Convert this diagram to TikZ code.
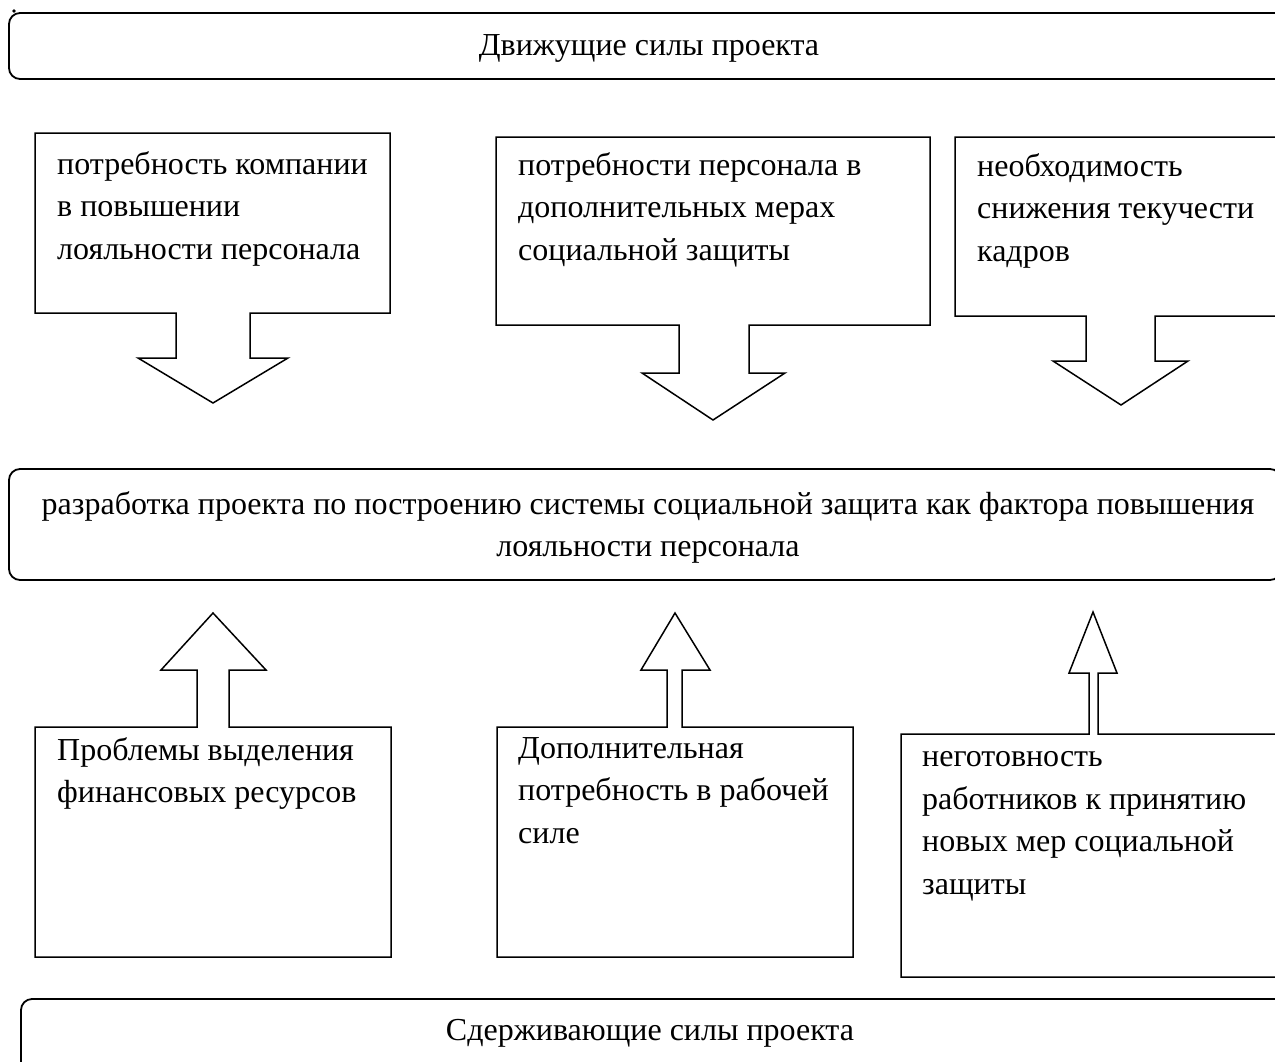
\documentclass[tikz,border=0pt]{standalone}
\usepackage{fontspec}
\setmainfont{Liberation Serif}
\newcommand\fsz{\fontsize{32}{42.5}\selectfont}
\begin{document}
\begin{tikzpicture}[x=1pt,y=-1pt,
  rbox/.style={draw,line width=1.8pt,rounded corners=11pt},
  cbox/.style={draw,line width=1.5pt,line join=miter},
  txt/.style={font=\fsz,anchor=base west,align=left,inner sep=0pt},
  ctxt/.style={font=\fsz,anchor=base,align=center,inner sep=0pt}]
\useasboundingbox (0,0) rectangle (1275,1061);
\clip (0,0) rectangle (1275,1061);
\fill[white] (0,0) rectangle (1275,1061);
% top box
\draw[rbox] (9,13) rectangle (1300,79);
\fill (14,11) circle (1.8pt);
\node[ctxt] (top) at (649,55) {Движущие силы проекта};
% driving forces
\draw[cbox] (35,133) -- (390,133) -- (390,313) -- (250,313) -- (250,358) -- (288,358) -- (213,403) -- (138,358) -- (176,358) -- (176,313) -- (35,313) -- cycle;
\node[txt] (d1) at (57,259) {потребность компании\\в повышении\\лояльности персонала};
\draw[cbox] (496,137) -- (930,137) -- (930,325) -- (749,325) -- (749,373) -- (785,373) -- (713,420) -- (642,373) -- (679,373) -- (679,325) -- (496,325) -- cycle;
\node[txt] (d2) at (518,260) {потребности персонала в\\дополнительных мерах\\социальной защиты};
\draw[cbox] (955,137) -- (1300,137) -- (1300,316) -- (1155,316) -- (1155,361) -- (1188,361) -- (1121,405) -- (1053,361) -- (1086,361) -- (1086,316) -- (955,316) -- cycle;
\node[txt] (d3) at (977,261) {необходимость\\снижения текучести\\кадров};
% middle box
\draw[rbox] (9,469) rectangle (1281,580);
\node[ctxt] (mid) at (648,556.5) {разработка проекта по построению системы социальной защита как фактора повышения\\лояльности персонала};
% restraining forces
\draw[cbox] (35,727) -- (197,727) -- (197,670) -- (161,670) -- (213,613) -- (266,670) -- (229,670) -- (229,727) -- (391,727) -- (391,957) -- (35,957) -- cycle;
\node[txt] (r1) at (57,802.5) {Проблемы выделения\\финансовых ресурсов};
\draw[cbox] (497,727) -- (667,727) -- (667,670) -- (641,670) -- (675,613) -- (710,670) -- (682,670) -- (682,727) -- (853,727) -- (853,957) -- (497,957) -- cycle;
\node[txt] (r2) at (518,843) {Дополнительная\\потребность в рабочей\\силе};
\draw[cbox] (901,734) -- (1089,734) -- (1089,673) -- (1069,673) -- (1093,612) -- (1117,673) -- (1098,673) -- (1098,734) -- (1300,734) -- (1300,977) -- (901,977) -- cycle;
\node[txt] (r3) at (922,894) {неготовность\\работников к принятию\\новых мер социальной\\защиты};
% bottom box
\draw[rbox] (21,999) rectangle (1300,1090);
\node[ctxt] (bot) at (650,1040) {Сдерживающие силы проекта};
\end{tikzpicture}
\end{document}
